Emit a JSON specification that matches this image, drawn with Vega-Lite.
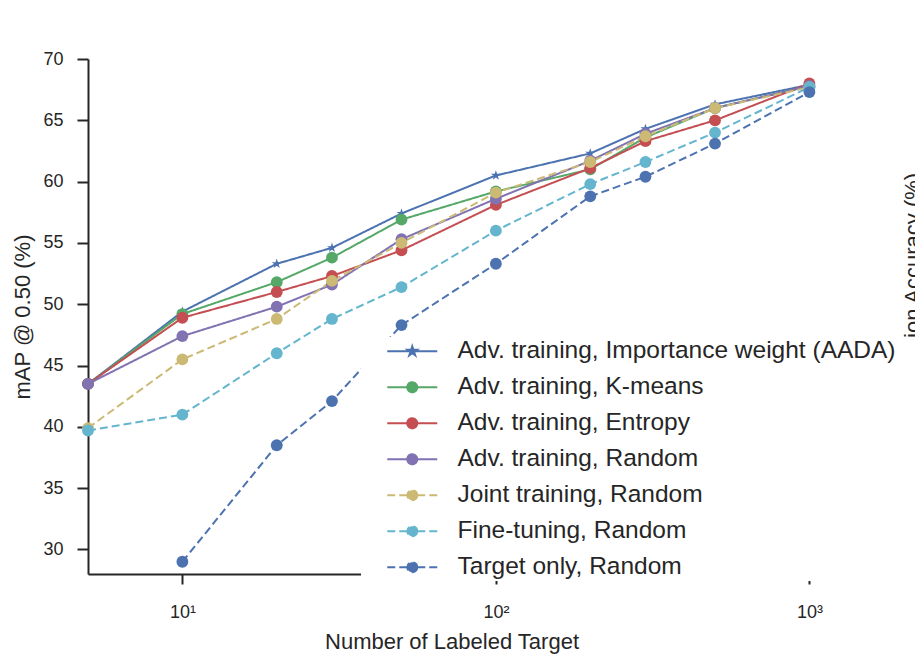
{
  "$schema": "https://vega.github.io/schema/vega-lite/v6.json",
  "width": 727,
  "height": 515,
  "autosize": {"type": "none"},
  "padding": {"left": 88, "top": 59, "right": 100, "bottom": 80},
  "background": "white",
  "config": {
    "view": {"stroke": null},
    "font": "Liberation Sans",
    "axis": {"grid": false, "domainColor": "#262626", "domainWidth": 2, "tickColor": "#262626", "tickWidth": 2, "labelColor": "#262626", "titleColor": "#262626", "labelFont": "Liberation Sans", "titleFont": "Liberation Sans", "labelFontSize": 18, "titleFontSize": 22, "titleFontWeight": "normal"}
  },
  "data": {
    "values": [
      {"n": 5, "map": 43.5, "method": "Adv. training, Importance weight (AADA)"},
      {"n": 10, "map": 49.4, "method": "Adv. training, Importance weight (AADA)"},
      {"n": 20, "map": 53.3, "method": "Adv. training, Importance weight (AADA)"},
      {"n": 30, "map": 54.6, "method": "Adv. training, Importance weight (AADA)"},
      {"n": 50, "map": 57.4, "method": "Adv. training, Importance weight (AADA)"},
      {"n": 100, "map": 60.5, "method": "Adv. training, Importance weight (AADA)"},
      {"n": 200, "map": 62.3, "method": "Adv. training, Importance weight (AADA)"},
      {"n": 300, "map": 64.3, "method": "Adv. training, Importance weight (AADA)"},
      {"n": 500, "map": 66.3, "method": "Adv. training, Importance weight (AADA)"},
      {"n": 1000, "map": 67.9, "method": "Adv. training, Importance weight (AADA)"},
      {"n": 5, "map": 43.5, "method": "Adv. training, K-means"},
      {"n": 10, "map": 49.2, "method": "Adv. training, K-means"},
      {"n": 20, "map": 51.8, "method": "Adv. training, K-means"},
      {"n": 30, "map": 53.8, "method": "Adv. training, K-means"},
      {"n": 50, "map": 56.9, "method": "Adv. training, K-means"},
      {"n": 100, "map": 59.2, "method": "Adv. training, K-means"},
      {"n": 200, "map": 61.0, "method": "Adv. training, K-means"},
      {"n": 300, "map": 63.6, "method": "Adv. training, K-means"},
      {"n": 500, "map": 66.0, "method": "Adv. training, K-means"},
      {"n": 1000, "map": 67.8, "method": "Adv. training, K-means"},
      {"n": 5, "map": 43.5, "method": "Adv. training, Entropy"},
      {"n": 10, "map": 48.9, "method": "Adv. training, Entropy"},
      {"n": 20, "map": 51.0, "method": "Adv. training, Entropy"},
      {"n": 30, "map": 52.3, "method": "Adv. training, Entropy"},
      {"n": 50, "map": 54.4, "method": "Adv. training, Entropy"},
      {"n": 100, "map": 58.1, "method": "Adv. training, Entropy"},
      {"n": 200, "map": 61.1, "method": "Adv. training, Entropy"},
      {"n": 300, "map": 63.3, "method": "Adv. training, Entropy"},
      {"n": 500, "map": 65.0, "method": "Adv. training, Entropy"},
      {"n": 1000, "map": 68.0, "method": "Adv. training, Entropy"},
      {"n": 5, "map": 43.5, "method": "Adv. training, Random"},
      {"n": 10, "map": 47.4, "method": "Adv. training, Random"},
      {"n": 20, "map": 49.8, "method": "Adv. training, Random"},
      {"n": 30, "map": 51.6, "method": "Adv. training, Random"},
      {"n": 50, "map": 55.3, "method": "Adv. training, Random"},
      {"n": 100, "map": 58.6, "method": "Adv. training, Random"},
      {"n": 200, "map": 61.7, "method": "Adv. training, Random"},
      {"n": 300, "map": 63.9, "method": "Adv. training, Random"},
      {"n": 500, "map": 66.0, "method": "Adv. training, Random"},
      {"n": 1000, "map": 67.8, "method": "Adv. training, Random"},
      {"n": 5, "map": 39.9, "method": "Joint training, Random"},
      {"n": 10, "map": 45.5, "method": "Joint training, Random"},
      {"n": 20, "map": 48.8, "method": "Joint training, Random"},
      {"n": 30, "map": 51.9, "method": "Joint training, Random"},
      {"n": 50, "map": 55.0, "method": "Joint training, Random"},
      {"n": 100, "map": 59.1, "method": "Joint training, Random"},
      {"n": 200, "map": 61.6, "method": "Joint training, Random"},
      {"n": 300, "map": 63.7, "method": "Joint training, Random"},
      {"n": 500, "map": 66.0, "method": "Joint training, Random"},
      {"n": 1000, "map": 67.7, "method": "Joint training, Random"},
      {"n": 5, "map": 39.7, "method": "Fine-tuning, Random"},
      {"n": 10, "map": 41.0, "method": "Fine-tuning, Random"},
      {"n": 20, "map": 46.0, "method": "Fine-tuning, Random"},
      {"n": 30, "map": 48.8, "method": "Fine-tuning, Random"},
      {"n": 50, "map": 51.4, "method": "Fine-tuning, Random"},
      {"n": 100, "map": 56.0, "method": "Fine-tuning, Random"},
      {"n": 200, "map": 59.8, "method": "Fine-tuning, Random"},
      {"n": 300, "map": 61.6, "method": "Fine-tuning, Random"},
      {"n": 500, "map": 64.0, "method": "Fine-tuning, Random"},
      {"n": 1000, "map": 67.7, "method": "Fine-tuning, Random"},
      {"n": 10, "map": 29.0, "method": "Target only, Random"},
      {"n": 20, "map": 38.5, "method": "Target only, Random"},
      {"n": 30, "map": 42.1, "method": "Target only, Random"},
      {"n": 50, "map": 48.3, "method": "Target only, Random"},
      {"n": 100, "map": 53.3, "method": "Target only, Random"},
      {"n": 200, "map": 58.8, "method": "Target only, Random"},
      {"n": 300, "map": 60.4, "method": "Target only, Random"},
      {"n": 500, "map": 63.1, "method": "Target only, Random"},
      {"n": 1000, "map": 67.3, "method": "Target only, Random"}
    ]
  },
  "encoding": {
    "x": {
      "field": "n", "type": "quantitative",
      "scale": {"type": "log", "domain": [5, 1042], "nice": false},
      "axis": {"values": [10, 100, 1000], "labelExpr": "datum.value == 10 ? '10¹' : datum.value == 100 ? '10²' : '10³'", "tickSize": 10, "labelPadding": 19, "title": "Number of Labeled Target", "titlePadding": 10, "labelFlush": false}
    },
    "color": {
      "field": "method", "type": "nominal",
      "scale": {
        "domain": ["Adv. training, Importance weight (AADA)", "Adv. training, K-means", "Adv. training, Entropy", "Adv. training, Random", "Joint training, Random", "Fine-tuning, Random", "Target only, Random"],
        "range": ["#4C72B0", "#55A868", "#C44E52", "#8172B2", "#CCB974", "#64B5CD", "#4C72B0"]
      },
      "legend": {
        "orient": "none", "legendX": 273, "legendY": 278, "direction": "vertical",
        "title": null, "padding": 2, "fillColor": "white", "strokeColor": null,
        "labelFontSize": 24.5, "labelFont": "Liberation Sans", "labelColor": "#262626", "labelLimit": 1000,
        "labelExpr": "datum.label + '\u2800\u2800'",
        "symbolSize": 100, "symbolStrokeWidth": 2, "symbolOffset": 37, "labelOffset": 33, "rowPadding": 11,
        "encode": {
          "symbols": {
            "update": {
              "shape": {"signal": "datum.value === 'Adv. training, Importance weight (AADA)' ? 'M-5,0L5,0M0,-1L0.225,-0.309L0.951,-0.309L0.363,0.118L0.588,0.809L0,0.382L-0.588,0.809L-0.363,0.118L-0.951,-0.309L-0.225,-0.309Z' : (indexof(['Joint training, Random', 'Fine-tuning, Random', 'Target only, Random'], datum.value) >= 0 ? 'M-5,0L-3.4,0M-2.6,0L-1,0M1,0L2.6,0M3.4,0L5,0M1,0A1,1,0,1,1,-1,0A1,1,0,1,1,1,0Z' : 'M-5,0L5,0M1,0A1,1,0,1,1,-1,0A1,1,0,1,1,1,0Z')"},
              "fill": {"scale": "color", "field": "value"},
              "stroke": {"scale": "color", "field": "value"},
              "strokeWidth": {"value": 2},
              "strokeDash": {"value": []},
              "size": {"value": 100},
              "opacity": {"value": 1},
              "fillOpacity": {"value": 1},
              "strokeOpacity": {"value": 1}
            }
          }
        }
      }
    }
  },
  "layer": [
    {
      "mark": {"type": "line", "strokeWidth": 2, "strokeCap": "butt"},
      "encoding": {
        "y": {
          "field": "map", "type": "quantitative",
          "scale": {"domain": [28, 70], "nice": false, "zero": false},
          "axis": {"values": [30, 35, 40, 45, 50, 55, 60, 65, 70], "tickSize": 11, "labelPadding": 14, "title": "mAP @ 0.50 (%)", "titlePadding": 8}
        },
        "strokeDash": {
          "field": "method", "type": "nominal",
          "scale": {
            "domain": ["Adv. training, Importance weight (AADA)", "Adv. training, K-means", "Adv. training, Entropy", "Adv. training, Random", "Joint training, Random", "Fine-tuning, Random", "Target only, Random"],
            "range": [[1, 0], [1, 0], [1, 0], [1, 0], [8, 4], [8, 4], [8, 4]]
          },
          "legend": null
        }
      }
    },
    {
      "transform": [{"filter": "datum.method === 'Adv. training, Importance weight (AADA)'"}],
      "mark": {"type": "point", "filled": true, "size": 110, "opacity": 1, "shape": "M0,-1L0.225,-0.309L0.951,-0.309L0.363,0.118L0.588,0.809L0,0.382L-0.588,0.809L-0.363,0.118L-0.951,-0.309L-0.225,-0.309Z"},
      "encoding": {
        "y": {
          "field": "map", "type": "quantitative",
          "scale": {"domain": [28, 70], "nice": false, "zero": false},
          "axis": null
        }
      }
    },
    {
      "transform": [{"filter": "datum.method !== 'Adv. training, Importance weight (AADA)'"}],
      "mark": {"type": "point", "filled": true, "size": 140, "opacity": 1, "shape": "circle"},
      "encoding": {
        "y": {
          "field": "map", "type": "quantitative",
          "scale": {"domain": [28, 70], "nice": false, "zero": false},
          "axis": {"orient": "right", "labels": false, "ticks": false, "domain": false, "title": "Classification Accuracy (%)", "titleAngle": 270, "titleX": 104, "titleY": 246, "titleAlign": "center", "titleBaseline": "alphabetic", "titleFontSize": 22}
        }
      }
    }
  ],
  "resolve": {"scale": {"y": "independent"}}
}
